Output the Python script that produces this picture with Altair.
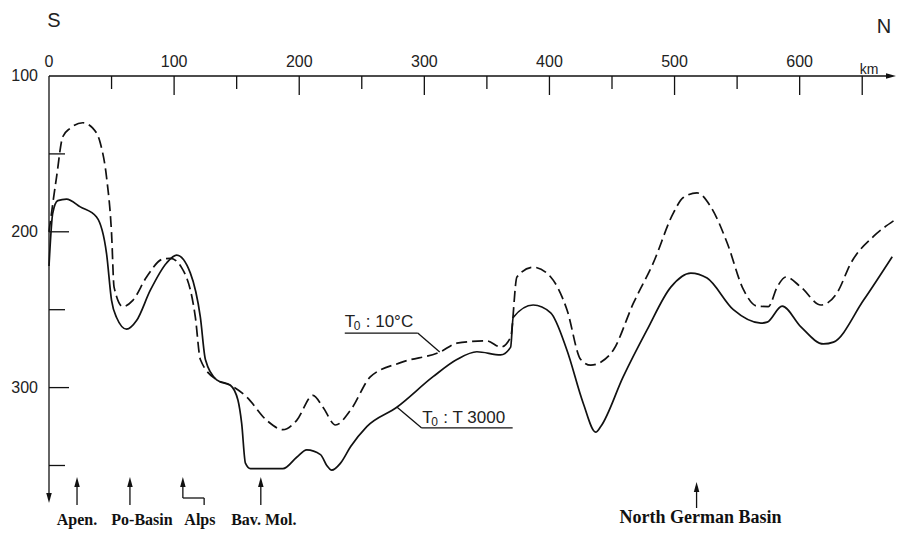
import altair as alt
import pandas as pd

# ---------------- data ----------------
solid_km = [0, 3, 7, 14, 25, 38, 46, 50, 54, 62, 70, 81, 94, 102, 113, 121, 125, 134, 145,
            151, 154, 157, 161, 187, 198, 206, 217, 222, 226, 233, 241, 254, 278, 307, 326,
            342, 361, 369, 371, 387, 401, 414, 427, 437, 441, 459, 478, 497, 513, 526, 547,
            569, 574, 586, 601, 619, 627, 651, 674]
solid_depth = [222, 188, 180, 179, 184, 190.5, 214, 244, 255, 262.5, 257, 237.5, 220, 215, 226.5,
               255, 282, 295, 298.5, 308, 323, 348.5, 352, 352, 344.7, 340, 343, 350, 353, 348.5,
               338, 325, 312.6, 293, 282, 277, 279, 274, 255, 247, 252, 276, 310, 328.6, 325, 293,
               263, 235.5, 226.5, 229.7, 250, 258.6, 258, 247.7, 261, 272, 270.8, 244, 216]

dashed_km = [0, 6, 11, 17, 27, 35, 41, 46, 50, 52, 59, 67, 78, 91, 97, 106, 117, 121, 134, 145,
             158, 174, 187, 198, 211, 219, 229, 241, 257, 281, 313, 326, 350, 361, 369, 374, 387,
             401, 414, 425, 433, 441, 451, 467, 483, 499, 507, 518, 529, 542, 555, 566, 575, 582,
             589, 601, 617, 630, 641, 659, 675]
dashed_depth = [200, 165, 139, 133.5, 130, 133.5, 143, 165, 201, 235.5, 248, 244, 229, 217.5, 217,
                223, 255, 282, 295, 298.5, 306, 321, 327, 321, 305, 312.6, 324, 314.5, 293, 284,
                277, 271.5, 270, 274, 267.6, 229, 222.7, 229, 250, 282, 285.6, 283.7, 276, 246,
                220, 188, 178, 175, 184, 207, 237, 247.7, 248, 235.5, 229, 235.5, 247, 239, 220,
                203, 193]

x_major_ticks = [100, 200, 300, 400, 500, 600, 650]
x_minor_ticks = [50, 150, 250, 350, 450, 550]
x_tick_labels = [0, 100, 200, 300, 400, 500, 600]
y_major_ticks = [200, 300]
y_minor_ticks = [150, 250, 350]
y_tick_labels = [100, 200, 300]

region_names = ["Apen.", "Po-Basin", "Alps", "Bav. Mol."]
region_label_km = [22.4, 74.3, 120.6, 171.7]
region_arrow_km = [22.4, 64.7, 107.0, 169.3]
basin_name = "North German Basin"
basin_label_km = 520.8
basin_arrow_km = 517.6

label_main = ["T", "T"]
label_sub = ["0", "0"]
label_rest = [": 10\u00b0C", ": T 3000"]

# ---------------- layout ----------------
W, H = 847, 430
XMAX = 677
YMIN, YMAX = 100, 376
PXX = W / XMAX
PXY = H / (YMAX - YMIN)

xs = alt.Scale(domain=[0, XMAX], nice=False, zero=False)
ys = alt.Scale(domain=[YMIN, YMAX], nice=False, zero=False, reverse=True)


def X(f):
    return alt.X(f, type="quantitative", scale=xs, axis=None)


def Y(f):
    return alt.Y(f, type="quantitative", scale=ys, axis=None)


def dy(px):
    return px / PXY


def dx(px):
    return px / PXX


# curves
solid_df = pd.DataFrame({"km": solid_km, "depth": solid_depth})
dashed_df = pd.DataFrame({"km": dashed_km, "depth": dashed_depth})

solid = alt.Chart(solid_df).mark_line(
    interpolate="monotone", color="#111", strokeWidth=1.7, clip=False
).encode(x=X("km"), y=Y("depth"), order="km:Q")

dashed = alt.Chart(dashed_df).mark_line(
    interpolate="monotone", color="#111", strokeWidth=1.7, strokeDash=[11, 5], clip=False
).encode(x=X("km"), y=Y("depth"), order="km:Q")

# segments: axes, ticks, leaders, arrow shafts
segs = []
ax_arrow_x = XMAX - dx(5)
segs.append((0, YMIN, ax_arrow_x, YMIN))
y_tip = YMIN + dy(427)
segs.append((0, YMIN, 0, y_tip - dy(5)))
for k in x_major_ticks:
    segs.append((k, YMIN, k, YMIN + dy(19)))
for k in x_minor_ticks:
    segs.append((k, YMIN, k, YMIN + dy(13)))
for d in y_major_ticks:
    segs.append((0, d, dx(20), d))
for d in y_minor_ticks:
    segs.append((0, d, dx(16), d))

# leader lines for the curve labels
l10_x0, l10_y = 236.4, 265.0
segs.append((l10_x0, l10_y, 294.7, l10_y))
segs.append((294.7, l10_y, 312.3, 277.2))
l30_x0, l30_y = 297.9, 325.9
segs.append((l30_x0, l30_y, 370.6, l30_y))
segs.append((278.0, 312.4, l30_x0, l30_y))

# region arrows
tip_d = YMIN + dy(401)
bot_d = YMIN + dy(429)
for name, k in zip(region_names, region_arrow_km):
    if name == "Alps":
        mid_d = YMIN + dy(422)
        segs.append((k, tip_d + dy(4), k, mid_d))
        segs.append((k, mid_d, 124.0, mid_d))
        segs.append((124.0, mid_d, 124.0, bot_d))
    else:
        segs.append((k, tip_d + dy(4), k, bot_d))
ngb_tip = YMIN + dy(406)
segs.append((basin_arrow_km, ngb_tip + dy(4), basin_arrow_km, YMIN + dy(432)))

seg_df = pd.DataFrame(segs, columns=["x1", "y1", "x2", "y2"])
rules = alt.Chart(seg_df).mark_rule(color="#111", strokeWidth=1.3).encode(
    x=X("x1"), y=Y("y1"), x2="x2:Q", y2="y2:Q"
)

# arrow heads
UP = "M0,-1L0.55,1L-0.55,1Z"
DOWN = "M0,1L0.55,-1L-0.55,-1Z"
RIGHT = "M1,0L-1,-0.55L-1,0.55Z"
heads = [(ax_arrow_x, YMIN, RIGHT), (0, y_tip - dy(5), DOWN)]
for k in region_arrow_km:
    heads.append((k, tip_d + dy(5), UP))
heads.append((basin_arrow_km, ngb_tip + dy(5), UP))
head_df = pd.DataFrame(heads, columns=["km", "depth", "shape"])
arrowheads = alt.Chart(head_df).mark_point(
    filled=True, color="#111", size=100, opacity=1, strokeWidth=0
).encode(x=X("km"), y=Y("depth"), shape=alt.Shape("shape:N", scale=None, legend=None))

# tick labels
top_df = pd.DataFrame({"km": x_tick_labels, "depth": YMIN - dy(14),
                       "t": [str(v) for v in x_tick_labels]})
top_labels = alt.Chart(top_df).mark_text(
    font="Liberation Sans", fontSize=16, color="#222", align="center", baseline="middle"
).encode(x=X("km"), y=Y("depth"), text="t:N")

left_df = pd.DataFrame({"km": -dx(11), "depth": y_tick_labels,
                        "t": [str(v) for v in y_tick_labels]})
left_labels = alt.Chart(left_df).mark_text(
    font="Liberation Sans", fontSize=16, color="#222", align="right", baseline="middle"
).encode(x=X("km"), y=Y("depth"), text="t:N")

km_df = pd.DataFrame({"km": [655.5], "depth": [YMIN - dy(6)], "t": ["km"]})
km_label = alt.Chart(km_df).mark_text(
    font="Liberation Sans", fontSize=14, color="#222", align="center", baseline="middle"
).encode(x=X("km"), y=Y("depth"), text="t:N")

sn_df = pd.DataFrame({"km": [dx(5), dx(835)], "depth": [YMIN - dy(55), YMIN - dy(49)],
                      "t": ["S", "N"]})
sn_labels = alt.Chart(sn_df).mark_text(
    font="Liberation Sans", fontSize=20, color="#222", align="center", baseline="middle"
).encode(x=X("km"), y=Y("depth"), text="t:N")

# curve labels: T with a lowered 0, then the rest
cl_df = pd.DataFrame({"km": [l10_x0, l30_x0 + 0.5],
                      "depth": [l10_y - dy(6), l30_y - dy(5)],
                      "main": label_main, "sub": label_sub, "rest": label_rest})
cl_main = alt.Chart(cl_df).mark_text(
    font="Liberation Sans", fontSize=17, color="#222", align="left", baseline="alphabetic"
).encode(x=X("km"), y=Y("depth"), text="main:N")
cl_sub = alt.Chart(cl_df).mark_text(
    font="Liberation Sans", fontSize=12, color="#222", align="left", baseline="alphabetic",
    dx=9, dy=3
).encode(x=X("km"), y=Y("depth"), text="sub:N")
cl_rest = alt.Chart(cl_df).mark_text(
    font="Liberation Sans", fontSize=17, color="#222", align="left", baseline="alphabetic",
    dx=21
).encode(x=X("km"), y=Y("depth"), text="rest:N")

reg_df = pd.DataFrame({"km": region_label_km, "depth": YMIN + dy(449), "t": region_names})
reg_labels = alt.Chart(reg_df).mark_text(
    font="Liberation Serif", fontSize=16, fontWeight="bold", color="#111",
    align="center", baseline="alphabetic"
).encode(x=X("km"), y=Y("depth"), text="t:N")

ngb_df = pd.DataFrame({"km": [basin_label_km], "depth": [YMIN + dy(447)], "t": [basin_name]})
ngb_label = alt.Chart(ngb_df).mark_text(
    font="Liberation Serif", fontSize=18, fontWeight="bold", color="#111",
    align="center", baseline="alphabetic"
).encode(x=X("km"), y=Y("depth"), text="t:N")

chart = alt.layer(
    rules, arrowheads, dashed, solid, top_labels, left_labels, km_label, sn_labels,
    cl_main, cl_sub, cl_rest, reg_labels, ngb_label
).properties(
    width=W, height=H,
    autosize=alt.AutoSizeParams(type="none"),
    padding={"left": 41, "top": 68, "right": 0, "bottom": 23},
    background="white",
).configure_view(stroke=None)

chart.save("out.html", embed_options={"renderer": "svg", "actions": False})
